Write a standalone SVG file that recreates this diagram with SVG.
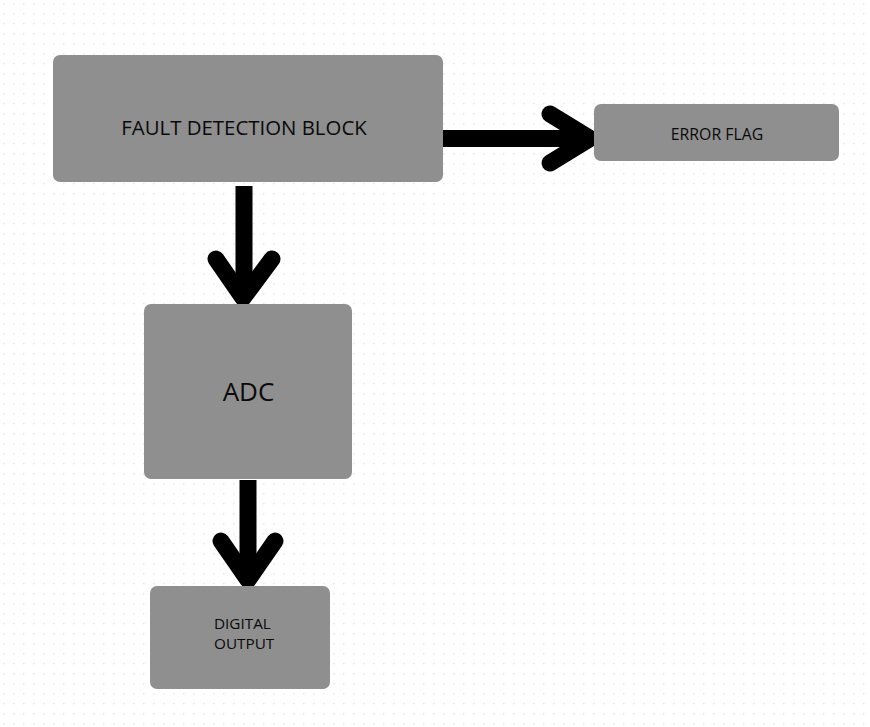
<svg xmlns="http://www.w3.org/2000/svg" width="870" height="727" viewBox="0 0 870 727">
<defs>
<pattern id="dots" x="3" y="3" width="10" height="10" patternUnits="userSpaceOnUse">
<circle cx="0.8" cy="0.8" r="0.8" fill="#e2e2e2"/>
</pattern>
</defs>
<style>
.box{fill:#8f8f8f}
.lbl{font-family:"Open Sans",sans-serif;fill:#0a0a0a;text-anchor:middle}
.con{fill:none;stroke:#000;stroke-width:17;stroke-linecap:round;stroke-linejoin:round}
.shaft{fill:none;stroke:#000;stroke-width:17;stroke-linecap:butt}
</style>
<rect width="870" height="727" fill="#ffffff"/>
<rect width="870" height="727" fill="url(#dots)"/>
<g id="connectors">
<line class="shaft" x1="443" y1="138.5" x2="585" y2="138.5"/>
<polyline class="con" points="550,114 590,138.5 550,163"/>
<line class="shaft" x1="244" y1="186" x2="244" y2="294"/>
<polyline class="con" points="216,259 243,298 272,259"/>
<line class="shaft" x1="248" y1="480" x2="248" y2="577"/>
<polyline class="con" points="221,541 248,580 275,541"/>
</g>
<g id="fault">
<rect class="box" x="53" y="55" width="390" height="127" rx="7"/>
<text class="lbl" x="244" y="135" font-size="20.4">FAULT DETECTION BLOCK</text>
</g>
<g id="error">
<rect class="box" x="594" y="104" width="245" height="57" rx="7"/>
<text class="lbl" x="717" y="140" font-size="15.8">ERROR FLAG</text>
</g>
<g id="adc">
<rect class="box" x="144" y="304" width="208" height="175" rx="7"/>
<text class="lbl" x="248.5" y="401" font-size="26">ADC</text>
</g>
<g id="digital">
<rect class="box" x="150" y="586" width="180" height="103" rx="7"/>
<text class="lbl" x="214" y="629" font-size="15.3" style="text-anchor:start">DIGITAL</text>
<text class="lbl" x="214" y="649" font-size="15.3" style="text-anchor:start">OUTPUT</text>
</g>
</svg>
